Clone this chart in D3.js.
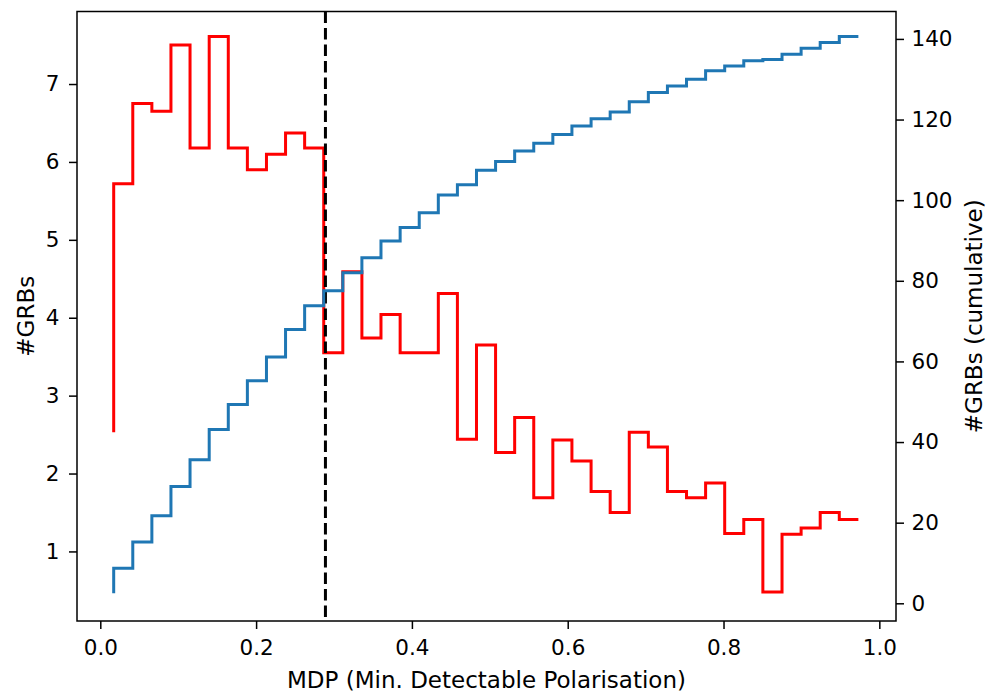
<!DOCTYPE html>
<html lang="en">
<head>
    <meta charset="UTF-8">
    <title>MDP distribution</title>
    <script src="https://d3js.org/d3.v7.min.js"></script>
    <style>
        body { margin: 0; background: #fff; }
        svg text { font-family: "DejaVu Sans", sans-serif; fill: #000; }
    </style>
</head>
<body>
    <div id="chart"></div>
    <script>
        // step positions (MDP)
        const mdp = [0.0172, 0.0417, 0.0662, 0.0907, 0.1152, 0.1398, 0.1643, 0.1888, 0.2133, 0.2378,
                     0.2623, 0.2868, 0.3113, 0.3358, 0.3603, 0.3849, 0.4094, 0.4339, 0.4584, 0.4829,
                     0.5074, 0.5319, 0.5564, 0.5809, 0.6054, 0.6300, 0.6545, 0.6790, 0.7035, 0.7280,
                     0.7525, 0.7770, 0.8015, 0.8260, 0.8505, 0.8751, 0.8996, 0.9241, 0.9486, 0.9731];

        // #GRBs per bin (left axis)
        const grbs = [2.53, 5.72, 6.75, 6.65, 7.50, 6.18, 7.61, 6.18, 5.90, 6.10,
                      6.37, 6.18, 3.55, 4.59, 3.74, 4.04, 3.55, 3.55, 4.31, 2.44,
                      3.65, 2.27, 2.72, 1.69, 2.43, 2.16, 1.77, 1.50, 2.53, 2.34,
                      1.77, 1.69, 1.88, 1.23, 1.41, 0.48, 1.22, 1.30, 1.50, 1.41];

        // cumulative #GRBs (right axis)
        const grbsCum = [2.5, 8.7, 15.2, 21.7, 29.0, 35.6, 43.1, 49.3, 55.2, 61.1,
                         67.9, 73.8, 77.5, 82.0, 85.7, 89.9, 93.2, 96.9, 101.3, 103.8,
                         107.4, 109.6, 112.2, 114.1, 116.3, 118.4, 120.2, 121.9, 124.4, 126.7,
                         128.3, 130.0, 132.1, 133.3, 134.6, 134.9, 136.2, 137.7, 139.1, 140.6];

        const mdpThreshold = 0.289;

        const xTicks = [0.0, 0.2, 0.4, 0.6, 0.8, 1.0];
        const leftTicks = [1, 2, 3, 4, 5, 6, 7];
        const rightTicks = [0, 20, 40, 60, 80, 100, 120, 140];

        const width = 988;
        const height = 696;
        const margin = { top: 11.5, bottom: 75, left: 77, right: 92 };

        const x = d3.scaleLinear()
            .domain([-0.0299, 1.0214])
            .range([margin.left, width - margin.right]);

        const yLeft = d3.scaleLinear()
            .domain([0.107, 7.931])
            .range([height - margin.bottom, margin.top]);

        const yRight = d3.scaleLinear()
            .domain([-4.39, 146.8])
            .range([height - margin.bottom, margin.top]);

        const svg = d3.select("#chart")
            .append("svg")
            .attr("width", width)
            .attr("height", height);

        const tickFont = "21.5px";

        // x axis
        const xAxis = svg.append("g")
            .attr("transform", `translate(0,${height - margin.bottom})`)
            .call(d3.axisBottom(x).tickValues(xTicks).tickFormat(d3.format(".1f")).tickSize(8).tickPadding(11));

        // left axis
        const leftAxis = svg.append("g")
            .attr("transform", `translate(${margin.left},0)`)
            .call(d3.axisLeft(yLeft).tickValues(leftTicks).tickFormat(d3.format("d")).tickSize(8).tickPadding(9.5));

        // right axis
        const rightAxis = svg.append("g")
            .attr("transform", `translate(${width - margin.right},0)`)
            .call(d3.axisRight(yRight).tickValues(rightTicks).tickFormat(d3.format("d")).tickSize(8).tickPadding(7.5));

        [xAxis, leftAxis, rightAxis].forEach(g => {
            g.select(".domain").remove();
            g.selectAll(".tick line").attr("stroke", "#000").attr("stroke-width", 1.5);
            g.selectAll(".tick text").style("font-size", tickFont).attr("fill", "#000");
        });

        // histogram line
        const lineLeft = d3.line()
            .x((d, i) => x(mdp[i]))
            .y(d => yLeft(d))
            .curve(d3.curveStepBefore);

        svg.append("path")
            .datum(grbs)
            .attr("fill", "none")
            .attr("stroke", "#ff0000")
            .attr("stroke-width", 3)
            .attr("d", lineLeft);

        // threshold line
        svg.append("line")
            .attr("x1", x(mdpThreshold))
            .attr("x2", x(mdpThreshold))
            .attr("y1", yLeft.range()[1])
            .attr("y2", yLeft.range()[0])
            .attr("stroke", "#000")
            .attr("stroke-width", 3)
            .attr("stroke-dasharray", "11.5,5");

        // cumulative line
        const lineRight = d3.line()
            .x((d, i) => x(mdp[i]))
            .y(d => yRight(d))
            .curve(d3.curveStepBefore);

        svg.append("path")
            .datum(grbsCum)
            .attr("fill", "none")
            .attr("stroke", "#1f77b4")
            .attr("stroke-width", 3)
            .attr("d", lineRight);

        // frame
        svg.append("rect")
            .attr("x", margin.left)
            .attr("y", margin.top)
            .attr("width", width - margin.left - margin.right)
            .attr("height", height - margin.top - margin.bottom)
            .attr("fill", "none")
            .attr("stroke", "#000")
            .attr("stroke-width", 1.5);

        // axis labels
        const midY = (margin.top + height - margin.bottom) / 2;

        svg.append("text")
            .attr("x", (margin.left + width - margin.right) / 2)
            .attr("y", 688.3)
            .attr("text-anchor", "middle")
            .style("font-size", "23px")
            .text("MDP (Min. Detectable Polarisation)");

        svg.append("text")
            .attr("transform", `translate(33.5,${midY}) rotate(-90)`)
            .attr("text-anchor", "middle")
            .style("font-size", "23px")
            .text("#GRBs");

        svg.append("text")
            .attr("transform", `translate(981.5,${midY}) rotate(-90)`)
            .attr("text-anchor", "middle")
            .style("font-size", "23px")
            .text("#GRBs (cumulative)");
    </script>
</body>
</html>
